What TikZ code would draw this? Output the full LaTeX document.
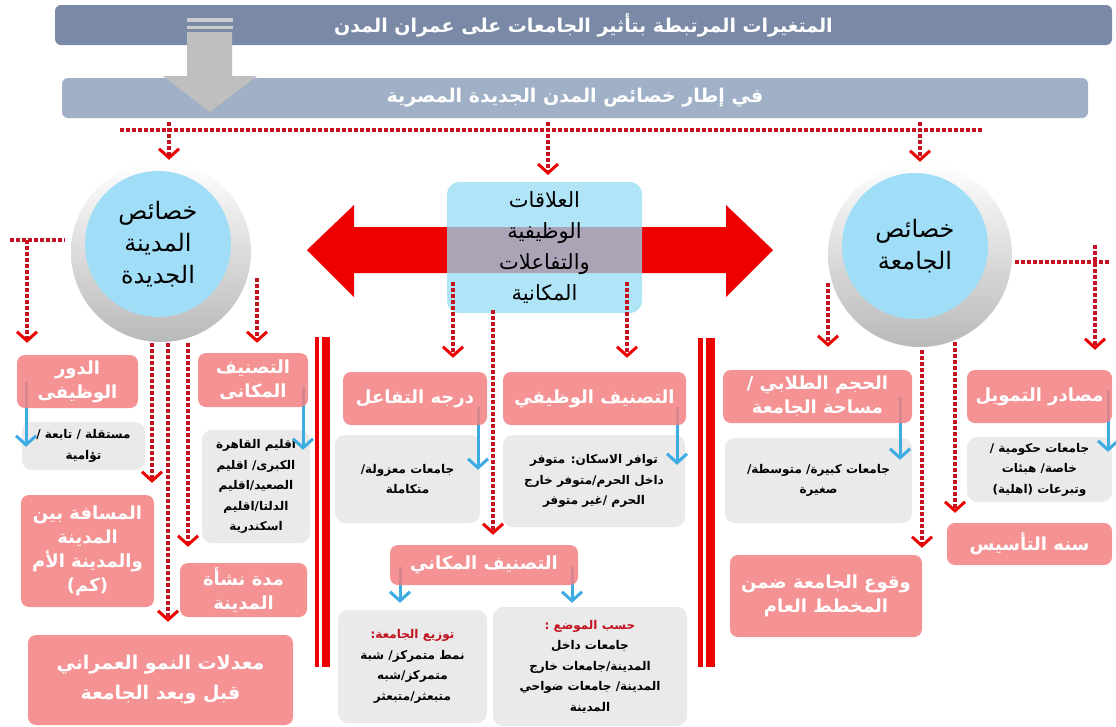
\documentclass[tikz,border=0pt]{standalone}
\usepackage{fontspec}
\newfontfamily\arabicfont[Script=Arabic]{DejaVu Sans}
\TeXXeTstate=1
\usetikzlibrary{arrows.meta}
\definecolor{titleblue}{RGB}{122,138,166}
\definecolor{subblue}{RGB}{160,176,198}
\definecolor{pinkfill}{RGB}{243,128,130}
\definecolor{greyfill}{RGB}{234,234,234}
\definecolor{circblue}{RGB}{160,222,247}
\definecolor{relblue}{RGB}{150,219,245}
\definecolor{dotred}{RGB}{196,18,32}
\definecolor{bigred}{RGB}{236,0,0}
\definecolor{arrblue}{RGB}{60,172,226}
\newcommand{\arl}[1]{\beginR #1\endR}
\tikzset{
  barbox/.style={rounded corners=6pt, text=white, inner sep=0pt,
    font=\arabicfont\bfseries\fontsize{19}{22}\selectfont},
  pinkbox/.style={fill=pinkfill, fill opacity=.85, text opacity=1, rounded corners=8pt,
    text=white, align=center, inner sep=0pt,
    font=\arabicfont\bfseries\fontsize{18}{24}\selectfont},
  greybox/.style={fill=greyfill, rounded corners=10pt, align=center, inner sep=0pt,
    font=\arabicfont\bfseries\fontsize{12}{20.5}\selectfont},
  circtext/.style={circle, fill=circblue, inner sep=0pt, align=center,
    font=\arabicfont\fontsize{24}{32}\selectfont},
  ringshade/.style={circle, inner sep=0pt, top color=white, bottom color=gray!55},
  dotline/.style={dotred, line width=3.5pt, dash pattern=on 3.5pt off 2.5pt},
  dotarr/.style={dotline, shorten >=12pt,
    -{Straight Barb[length=9pt,width=20pt,line width=3pt,color=bigred]}},
  bluearr/.style={arrblue, line width=3pt,
    -{Straight Barb[length=9pt,width=20pt,line width=3pt]}},
}
\begin{document}
\begin{tikzpicture}[x=1pt,y=-1pt]
  \useasboundingbox (0,0) rectangle (1116,726);
  \fill[white] (0,0) rectangle (1116,726);
  % header bars
  \path (583.5,25) node[barbox, fill=titleblue, minimum width=1057, minimum height=40] (titlebar)
    {\arl{المتغيرات المرتبطة بتأثير الجامعات على عمران المدن}};
  \path (575,98) node[barbox, fill=subblue, minimum width=1026, minimum height=40] (subbar)
    {\arl{في إطار خصائص المدن الجديدة المصرية}};
  \fill[gray!40] (187,18) rectangle (233,22);
  \fill[gray!40] (187,26) rectangle (233,29);
  \fill[gray!50] (187,32) -- (232,32) -- (232,76) -- (257,76) -- (210,112)
    -- (163,76) -- (187,76) -- cycle;
  % top dotted lines
  \coordinate (tl) at (120,130);
  \coordinate (tr) at (982,130);
  \coordinate (t1) at (169,122);
  \coordinate (t2) at (548,122);
  \coordinate (t3) at (920,122);
  \draw[dotline] (tl) -- (tr);
  % circles
  \path (161,252) node[ringshade, minimum size=180] (cityshadow) {};
  \path (158,244) node[circtext, minimum size=146] (citycirc)
    {\arl{خصائص}\\\arl{المدينة}\\\arl{الجديدة}};
  \path (920,255) node[ringshade, minimum size=184] (unishadow) {};
  \path (915,246) node[circtext, minimum size=146] (unicirc)
    {\arl{خصائص}\\\arl{الجامعة}};
  \draw[dotarr, shorten >=11pt] (t1) -- (t1 |- citycirc.north);
  \draw[dotarr, shorten >=7pt] (t2) -- (t2 |- 0,182);
  \draw[dotarr, shorten >=11pt] (t3) -- (t3 |- unicirc.north);
  % double red arrow and relations box
  \fill[bigred] (307,250) -- (354,205) -- (354,227) -- (726,227) -- (726,205) -- (773,250)
    -- (726,297) -- (726,273) -- (354,273) -- (354,297) -- cycle;
  \path (544.5,247.5) node[fill=relblue, fill opacity=.75, text opacity=1, rounded corners=12pt,
    minimum width=195, minimum height=131, inner sep=0pt, align=center,
    font=\arabicfont\fontsize{21}{31}\selectfont] (relbox)
    {\arl{العلاقات}\\\arl{الوظيفية}\\\arl{والتفاعلات}\\\arl{المكانية}};
  % red separators
  \fill[bigred] (315,337) rectangle (319,667);
  \fill[bigred] (322,337) rectangle (330,667);
  \fill[bigred] (698,338) rectangle (703,667);
  \fill[bigred] (706,338) rectangle (715,667);
  % grey boxes
  \path (83.5,446) node[greybox, minimum width=123, minimum height=48] (indepbox)
    {\arl{مستقلة / تابعة /}\\\arl{تؤامية}};
  \path (256,486.5) node[greybox, minimum width=108, minimum height=113] (regionbox)
    {\arl{اقليم القاهرة}\\\arl{الكبرى/ اقليم}\\\arl{الصعيد/اقليم}\\\arl{الدلتا/اقليم}\\\arl{اسكندرية}};
  \path (407.5,479) node[greybox, minimum width=145, minimum height=88] (isolbox)
    {\arl{جامعات معزولة/}\\\arl{متكاملة}};
  \path (594,481) node[greybox, minimum width=182, minimum height=92] (housebox)
    {\arl{توافر الاسكان: متوفر}\\\arl{داخل الحرم/متوفر خارج}\\\arl{الحرم /غير متوفر}};
  \path (412.5,666.5) node[greybox, minimum width=149, minimum height=113] (distribbox)
    {{\color{dotred}\arl{توزيع الجامعة:}}\\\arl{نمط متمركز/ شبة}\\\arl{متمركز/شبه}\\\arl{متبعثر/متبعثر}};
  \path (590,666.5) node[greybox, minimum width=194, minimum height=119] (locbox)
    {{\color{dotred}\arl{حسب الموضع :}}\\\arl{جامعات داخل}\\\arl{المدينة/جامعات خارج}\\\arl{المدينة/ جامعات ضواحي}\\\arl{المدينة}};
  \path (818.5,480.5) node[greybox, minimum width=187, minimum height=85] (sizegbox)
    {\arl{جامعات كبيرة/ متوسطة/}\\\arl{صغيرة}};
  \path (1039.5,469.5) node[greybox, minimum width=145, minimum height=65] (fundgbox)
    {\arl{جامعات حكومية /}\\\arl{خاصة/ هبئات}\\\arl{وتبرعات (اهلية)}};
  % blue arrows
  \coordinate (b1) at (26,382);
  \coordinate (b2) at (303,387);
  \coordinate (b3) at (478,407);
  \coordinate (b4) at (677,407);
  \coordinate (b5) at (400,567);
  \coordinate (b6) at (572,567);
  \coordinate (b7) at (900,397);
  \coordinate (b8) at (1108,390);
  \draw[bluearr, shorten >=-25pt] (b1) -- (b1 |- indepbox.north);
  \draw[bluearr, shorten >=-20pt] (b2) -- (b2 |- regionbox.north);
  \draw[bluearr, shorten >=-35pt] (b3) -- (b3 |- isolbox.north);
  \draw[bluearr, shorten >=-30pt] (b4) -- (b4 |- housebox.north);
  \draw[bluearr, shorten >=7pt] (b5) -- (b5 |- distribbox.north);
  \draw[bluearr, shorten >=4pt] (b6) -- (b6 |- locbox.north);
  \draw[bluearr, shorten >=-22pt] (b7) -- (b7 |- sizegbox.north);
  \draw[bluearr, shorten >=-15pt] (b8) -- (b8 |- fundgbox.north);
  % pink boxes
  \path (77.5,381.5) node[pinkbox, minimum width=121, minimum height=53] (durbox)
    {\arl{الدور}\\\arl{الوظيفى}};
  \path (253,380) node[pinkbox, minimum width=110, minimum height=54] (spclassbox)
    {\arl{التصنيف}\\\arl{المكانى}};
  \path (87.5,551) node[pinkbox, minimum width=133, minimum height=112] (distbox)
    {\arl{المسافة بين}\\\arl{المدينة}\\\arl{والمدينة الأم}\\\arl{(كم)}};
  \path (243.5,590) node[pinkbox, minimum width=127, minimum height=54] (agebox)
    {\arl{مدة نشأة}\\\arl{المدينة}};
  \path (160.5,680) node[pinkbox, minimum width=265, minimum height=90,
    font=\arabicfont\bfseries\fontsize{19}{30}\selectfont] (growbox)
    {\arl{معدلات النمو العمراني}\\\arl{قبل وبعد الجامعة}};
  \path (415,398.5) node[pinkbox, minimum width=144, minimum height=53] (interbox)
    {\arl{درجه التفاعل}};
  \path (594.5,398.5) node[pinkbox, minimum width=183, minimum height=53] (funcbox)
    {\arl{التصنيف الوظيفي}};
  \path (484,565) node[pinkbox, minimum width=188, minimum height=40] (spatbox)
    {\arl{التصنيف المكاني}};
  \path (817.5,396.5) node[pinkbox, minimum width=189, minimum height=53] (sizebox)
    {\arl{الحجم الطلابي /}\\\arl{مساحة الجامعة}};
  \path (1039.5,396.5) node[pinkbox, minimum width=145, minimum height=53] (fundbox)
    {\arl{مصادر التمويل}};
  \path (1029.5,544) node[pinkbox, minimum width=165, minimum height=42] (yearbox)
    {\arl{سنه التأسيس}};
  \path (826,596) node[pinkbox, minimum width=192, minimum height=82] (planbox)
    {\arl{وقوع الجامعة ضمن}\\\arl{المخطط العام}};
  % dotted arrows, new city side
  \coordinate (l0) at (10,240);
  \coordinate (l1) at (65,240);
  \coordinate (l2) at (27,240);
  \coordinate (l3) at (257,278);
  \coordinate (l4) at (152,343);
  \coordinate (l5) at (168,343);
  \coordinate (l6) at (188,343);
  \draw[dotline] (l0) -- (l1);
  \draw[dotarr] (l2) -- (l2 |- durbox.north);
  \draw[dotarr, shorten >=10pt] (l3) -- (l3 |- spclassbox.north);
  \draw[dotarr] (l4) -- (l4 |- distbox.north);
  \draw[dotarr, shorten >=13pt] (l5) -- (l5 |- growbox.north);
  \draw[dotarr, shorten >=16pt] (l6) -- (l6 |- agebox.north);
  % dotted arrows, relations
  \coordinate (m1) at (453,282);
  \coordinate (m2) at (627,282);
  \coordinate (m3) at (493,310);
  \draw[dotarr, shorten >=14pt] (m1) -- (m1 |- interbox.north);
  \draw[dotarr, shorten >=14pt] (m2) -- (m2 |- funcbox.north);
  \draw[dotarr, shorten >=10pt] (m3) -- (m3 |- spatbox.north);
  % dotted arrows, university side
  \coordinate (r0) at (1015,262);
  \coordinate (r1) at (1110,262);
  \coordinate (r2) at (1095,245);
  \coordinate (r3) at (828,283);
  \coordinate (r4) at (922,350);
  \coordinate (r5) at (955,342);
  \draw[dotline] (r0) -- (r1);
  \draw[dotarr, shorten >=20pt] (r2) -- (r2 |- fundbox.north);
  \draw[dotarr, shorten >=23pt] (r3) -- (r3 |- sizebox.north);
  \draw[dotarr, shorten >=7pt] (r4) -- (r4 |- planbox.north);
  \draw[dotarr, shorten >=10pt] (r5) -- (r5 |- yearbox.north);
\end{tikzpicture}
\end{document}
